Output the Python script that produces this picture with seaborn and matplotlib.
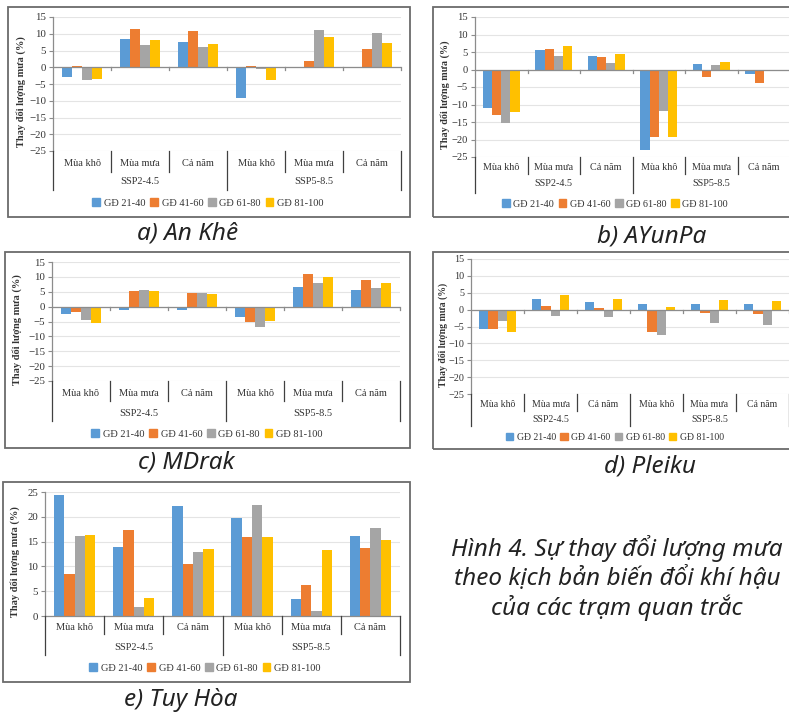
import matplotlib
matplotlib.use("Agg")
import matplotlib.pyplot as plt
import seaborn as sns
import pandas as pd
from matplotlib.lines import Line2D
from matplotlib.patches import Rectangle
from matplotlib import transforms

# ---------------- data ----------------
scenarios = ["SSP2-4.5", "SSP5-8.5"]
seasons = ["Mùa khô", "Mùa mưa", "Cả năm"]
periods = ["GĐ 21-40", "GĐ 41-60", "GĐ 61-80", "GĐ 81-100"]
colors = ["#5B9BD5", "#ED7D31", "#A5A5A5", "#FFC000"]

# rows: SSP2 (khô, mưa, cả năm), SSP5 (khô, mưa, cả năm); cols: periods
an_khe = [[-2.8, 0.5, -3.8, -3.5],
          [8.3, 11.5, 6.5, 8.0],
          [7.4, 10.7, 6.0, 7.0],
          [-9.1, 0.3, -0.4, -3.9],
          [0.0, 2.0, 11.2, 8.9],
          [-0.3, 5.4, 10.1, 7.2]]
ayunpa = [[-11.1, -12.9, -15.4, -12.1],
          [5.6, 5.8, 3.8, 6.6],
          [3.8, 3.7, 1.8, 4.5],
          [-23.1, -19.4, -11.9, -19.4],
          [1.5, -2.1, 1.2, 2.1],
          [-1.2, -3.9, 0.0, -0.3]]
mdrak = [[-2.6, -1.7, -4.5, -5.5],
         [-1.0, 5.3, 5.6, 5.3],
         [-1.1, 4.6, 4.5, 4.1],
         [-3.4, -5.3, -7.0, -4.8],
         [6.7, 10.9, 7.9, 9.9],
         [5.7, 9.1, 6.3, 8.0]]
pleiku = [[-5.7, -5.7, -3.4, -6.7],
          [3.2, 1.2, -2.0, 4.3],
          [2.4, 0.5, -2.1, 3.2],
          [1.7, -6.6, -7.4, 0.8],
          [1.7, -0.9, -4.1, 2.9],
          [1.7, -1.4, -4.5, 2.7]]
tuy_hoa = [[24.3, 8.5, 16.1, 16.3],
           [14.0, 17.3, 1.8, 3.7],
           [22.1, 10.4, 13.0, 13.6],
           [19.7, 15.9, 22.4, 15.9],
           [3.5, 6.2, 1.1, 13.3],
           [16.2, 13.8, 17.8, 15.3]]

captions = ["a) An Khê", "b) AYunPa", "c) MDrak", "d) Pleiku", "e) Tuy Hòa"]
ylabel = "Thay đổi lượng mưa (%)"
fig_caption = ["Hình 4. Sự thay đổi lượng mưa",
               "theo kịch bản biến đổi khí hậu",
               "của các trạm quan trắc"]

# ---------------- layout ----------------
W, H = 789, 712
fig = plt.figure(figsize=(W / 100, H / 100), dpi=100)
fig.patch.set_facecolor("white")
SERIF = "Liberation Serif"
CAPFONT = "Noto Sans"


def fx(x):
    return x / W


def fy(y):
    return 1 - y / H


cats = [f"{s}|{c}" for s in scenarios for c in seasons]

specs = [
    dict(vals=an_khe, axes=(53, 17, 401, 151), ylim=(-25, 15), box=(8, 7, 410, 217),
         cat_y=164, short_b=172, grp_y=182, long_b=190, leg=(208, 203), yoff=32,
         cap=(188, 233), fs=7.5),
    dict(vals=ayunpa, axes=(475, 17, 790, 157), ylim=(-25, 15), box=(433, 7, 800, 217),
         cat_y=168, short_b=174, grp_y=183, long_b=193, leg=(615, 204), yoff=30,
         cap=(652, 236), fs=7.3),
    dict(vals=mdrak, axes=(52, 262, 400, 381), ylim=(-25, 15), box=(5, 252, 410, 448),
         cat_y=394, short_b=401, grp_y=413, long_b=421, leg=(207, 434), yoff=35,
         cap=(186, 463), fs=7.5),
    dict(vals=pleiku, axes=(471, 259, 789, 394), ylim=(-25, 15), box=(433, 252, 800, 449),
         cat_y=404, short_b=411, grp_y=419, long_b=426, leg=(615, 437), yoff=28,
         cap=(650, 467), fs=7.0),
    dict(vals=tuy_hoa, axes=(45, 492, 400, 616), ylim=(0, 25), box=(3, 482, 410, 682),
         cat_y=628, short_b=634, grp_y=647, long_b=655, leg=(205, 668), yoff=30,
         cap=(181, 700), fs=7.5),
]

AXCOL = "#8c8c8c"
TXT = "#333333"

for spec, cap in zip(specs, captions):
    l, t, r, b = spec["axes"]
    wpx, hpx = r - l, b - t
    fs = spec["fs"]
    ax = fig.add_axes([fx(l), fy(b), wpx / W, hpx / H])

    rows = []
    for ci, cat in enumerate(cats):
        for pi, per in enumerate(periods):
            rows.append({"cat": cat, "period": per, "value": spec["vals"][ci][pi]})
    df = pd.DataFrame(rows)

    sns.barplot(data=df, x="cat", y="value", hue="period", order=cats,
                hue_order=periods, palette=colors, saturation=1, width=0.7,
                errorbar=None, linewidth=0, ax=ax, legend=False)

    ymin, ymax = spec["ylim"]
    ax.set_xlim(-0.5, 5.5)
    ax.set_ylim(ymin, ymax)
    ax.set_yticks(list(range(ymin, ymax + 1, 5)))
    ax.set_xticks([])
    ax.set_xlabel("")
    ax.yaxis.grid(True, color="#e4e4e4", lw=0.8)
    ax.set_axisbelow(True)
    for s in ["top", "right"]:
        ax.spines[s].set_visible(False)
    ax.spines["left"].set_color(AXCOL)
    ax.spines["left"].set_linewidth(0.9)
    if ymin < 0:
        ax.spines["bottom"].set_visible(False)
        ax.axhline(0, color=AXCOL, lw=0.9, zorder=3)
        d = 3 * (ymax - ymin) / hpx
        for bnd in [0.5, 1.5, 2.5, 3.5, 4.5, 5.5]:
            ax.plot([bnd, bnd], [0, -d], color=AXCOL, lw=0.9, zorder=3, clip_on=False)
    else:
        ax.spines["bottom"].set_color(AXCOL)
        ax.spines["bottom"].set_linewidth(0.9)
    ax.tick_params(axis="y", length=3, width=0.8, color=AXCOL, pad=2,
                   labelsize=fs + 0.3, labelcolor=TXT)
    for lab in ax.get_yticklabels():
        lab.set_fontfamily(SERIF)

    ax.set_ylabel(ylabel, fontfamily=SERIF, fontweight="bold", fontsize=fs, color=TXT)
    ax.yaxis.set_label_coords(-(spec["yoff"] - 5) / wpx, 0.5 - 8 / hpx)

    # category separators & labels under the plot area
    trans = transforms.blended_transform_factory(ax.transData, fig.transFigure)
    for bnd in [-0.5, 0.5, 1.5, 2.5, 3.5, 4.5, 5.5]:
        long = bnd in (-0.5, 2.5, 5.5)
        yb = spec["long_b"] if long else spec["short_b"]
        fig.add_artist(Line2D([bnd, bnd], [fy(b), fy(yb)], transform=trans,
                              color="#404040", lw=0.9))
    for ci, cat in enumerate(cats):
        fig.text(ci, fy(spec["cat_y"]), cat.split("|")[1], transform=trans,
                 ha="center", va="center", fontfamily=SERIF, fontsize=fs, color=TXT)
    for si, scen in enumerate(scenarios):
        fig.text(1 + 3 * si, fy(spec["grp_y"]), scen, transform=trans,
                 ha="center", va="center", fontfamily=SERIF, fontsize=fs, color=TXT)

    handles = [Rectangle((0, 0), 1, 1, color=c) for c in colors]
    ax.legend(handles, periods, loc="center", ncol=4, frameon=False,
              bbox_to_anchor=(fx(spec["leg"][0]), fy(spec["leg"][1])),
              bbox_transform=fig.transFigure,
              prop={"family": SERIF, "size": fs},
              handlelength=0.75, handleheight=0.75, handletextpad=0.35,
              columnspacing=0.45, borderpad=0)
    for txt in ax.get_legend().get_texts():
        txt.set_color(TXT)

    bl, bt, br, bb = spec["box"]
    fig.add_artist(Rectangle((fx(bl), fy(bb)), (br - bl) / W, (bb - bt) / H,
                             transform=fig.transFigure, fill=False,
                             ec="#6b6b6b", lw=1.3))

    fig.text(fx(spec["cap"][0]), fy(spec["cap"][1]), cap, ha="center", va="center",
             fontfamily=CAPFONT, style="italic", fontsize=17.5, color="#222222")

for i, line in enumerate(fig_caption):
    fig.text(fx(617), fy(549 + 29.5 * i), line, ha="center", va="center",
             fontfamily=CAPFONT, style="italic", fontsize=17.5, color="#222222")

fig.savefig("out.png", dpi=100, facecolor="white")
